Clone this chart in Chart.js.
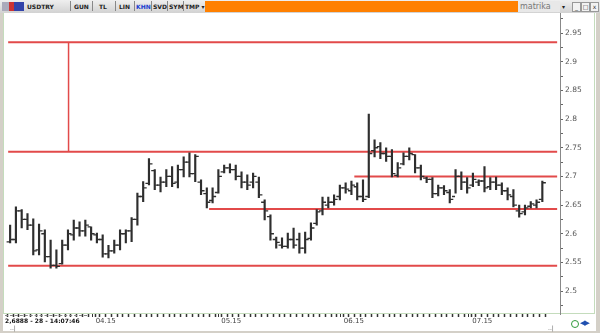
<!DOCTYPE html>
<html>
<head>
<meta charset="utf-8">
<script src="https://cdn.jsdelivr.net/npm/chart.js@4.4.0/dist/chart.umd.min.js"></script>
<style>
  body { margin: 0; background: #d4d0c8; }
  #frame { position: relative; width: 600px; height: 333px; background: #d4d0c8; overflow: hidden;
           font-family: "DejaVu Sans", "Liberation Sans", sans-serif; }
  #toolbar { position: absolute; left: 0; top: 0; width: 600px; height: 13px;
             background: linear-gradient(#efefef, #d2d2d2); }
  .tb { position: absolute; top: 2px; font-size: 6px; font-weight: bold; color: #222; line-height: 9px; }
  .sep { position: absolute; top: 1px; width: 1px; height: 10px; background: #888; }
  #orange { position: absolute; left: 205px; top: 1px; width: 313px; height: 11px; background: #ff8000; }
  #brand { position: absolute; left: 518px; top: 1px; width: 40px; height: 11px; background: #e8e8e8;
           color: #777; font-size: 8px; line-height: 11px; padding-left: 2px; }
  .win { position: absolute; top: 2px; width: 7px; height: 8px; border: 1px solid #999; background: #f2f2f2;
         font-size: 6px; line-height: 8px; text-align: center; color: #333; }
  #panel { position: absolute; left: 3px; top: 13px; width: 593px; height: 318px; background: #fff; }
  #border { position: absolute; left: 3px; top: 13px; width: 590px; height: 300px;
            border-left: 1px solid #c4dcbc; border-right: 1px solid #c4dcbc; border-bottom: 1px solid #c4dcbc; }
  #wrap { position: absolute; left: 0; top: 6px; width: 600px; height: 325px; }
  #info { position: absolute; left: 5px; top: 315px; width: 82px; height: 9px; border-top: 1px dashed #888;
          font-size: 6px; font-weight: bold; line-height: 9px; color: #111; white-space: nowrap; }
  .small { position: absolute; font-size: 6px; color: #666; }
  #refresh { position: absolute; left: 571px; top: 320px; width: 6px; height: 6px; border: 1.5px solid #2f9a3a;
             border-radius: 50%; }
  #arrows { position: absolute; left: 580px; top: 319px; font-size: 7px; color: #2050b0; letter-spacing: -1px; }
</style>
</head>
<body>
<div id="frame">
  <div id="panel"></div>
  <div id="border"></div>
  <div id="wrap"><canvas id="chart" width="600" height="325"></canvas></div>

  <div id="toolbar">
    <div style="position:absolute;left:2px;top:2px;width:22px;height:9px;background:linear-gradient(90deg,#aab 0 30%,#c33 30% 55%,#34a 55% 100%);"></div>
    <div class="tb" style="left:27px;">USDTRY</div>
    <div class="sep" style="left:70px;"></div>
    <div class="tb" style="left:74px;">GUN</div>
    <div class="sep" style="left:92px;"></div>
    <div class="tb" style="left:99px;">TL</div>
    <div class="sep" style="left:115px;"></div>
    <div class="tb" style="left:119px;">LIN</div>
    <div class="sep" style="left:134px;"></div>
    <div class="tb" style="left:136px;color:#2040d0;">KHN</div>
    <div class="sep" style="left:151px;"></div>
    <div class="tb" style="left:153px;">SVD</div>
    <div class="sep" style="left:167px;"></div>
    <div class="tb" style="left:169px;">SYM</div>
    <div class="sep" style="left:183px;"></div>
    <div class="tb" style="left:185px;">TMP ▾</div>
    <div id="orange"></div>
    <div id="brand">matrika</div>
    <div class="tb" style="left:562px;">▾</div>
    <div class="win" style="left:572px;">_</div>
    <div class="win" style="left:581px;">□</div>
    <div class="win" style="left:590px;">x</div>
  </div>

  <div id="info">2,6888 - 28 - 14:07:46</div>
  <div class="small" style="left:10px;top:324px;">..|</div>
  <div class="small" style="left:548px;top:324px;">..|</div>
  <div id="refresh"></div>
  <div id="arrows">◀▶</div>
</div>

<script>
// USDTRY daily bars (high / low / open / close)
const highs = [2.615, 2.647, 2.642, 2.635, 2.626, 2.617, 2.607, 2.589, 2.572, 2.589,
  2.607, 2.624, 2.621, 2.624, 2.612, 2.601, 2.598, 2.580, 2.589, 2.607,
  2.607, 2.628, 2.671, 2.691, 2.731, 2.712, 2.699, 2.712, 2.717, 2.720,
  2.734, 2.741, 2.738, 2.694, 2.680, 2.680, 2.712, 2.720, 2.722, 2.720,
  2.708, 2.703, 2.706, 2.699, 2.659, 2.633, 2.594, 2.593, 2.601, 2.610,
  2.601, 2.603, 2.619, 2.642, 2.664, 2.664, 2.668, 2.685, 2.689, 2.692,
  2.689, 2.694, 2.809, 2.764, 2.759, 2.750, 2.747, 2.724, 2.741, 2.750,
  2.738, 2.720, 2.699, 2.698, 2.685, 2.684, 2.677, 2.712, 2.708, 2.698,
  2.706, 2.694, 2.717, 2.698, 2.699, 2.689, 2.680, 2.677, 2.650, 2.650,
  2.656, 2.659, 2.692];
const lows = [2.584, 2.584, 2.610, 2.607, 2.563, 2.563, 2.551, 2.540, 2.540, 2.547,
  2.572, 2.589, 2.596, 2.596, 2.589, 2.584, 2.559, 2.558, 2.566, 2.572,
  2.584, 2.586, 2.615, 2.656, 2.685, 2.677, 2.673, 2.682, 2.682, 2.680,
  2.699, 2.699, 2.691, 2.668, 2.645, 2.654, 2.671, 2.706, 2.706, 2.694,
  2.680, 2.677, 2.680, 2.663, 2.624, 2.589, 2.575, 2.575, 2.575, 2.575,
  2.566, 2.566, 2.589, 2.615, 2.633, 2.645, 2.650, 2.659, 2.671, 2.668,
  2.659, 2.656, 2.663, 2.734, 2.731, 2.726, 2.699, 2.699, 2.720, 2.729,
  2.706, 2.694, 2.689, 2.663, 2.666, 2.668, 2.654, 2.671, 2.677, 2.671,
  2.682, 2.684, 2.673, 2.677, 2.677, 2.668, 2.659, 2.647, 2.629, 2.633,
  2.645, 2.645, 2.656];
const opens = [2.586, 2.590, 2.640, 2.625, 2.615, 2.572, 2.600, 2.560, 2.545, 2.548,
  2.580, 2.598, 2.610, 2.605, 2.612, 2.598, 2.590, 2.565, 2.570, 2.580,
  2.600, 2.605, 2.625, 2.665, 2.688, 2.710, 2.685, 2.690, 2.700, 2.690,
  2.712, 2.725, 2.705, 2.690, 2.670, 2.658, 2.672, 2.708, 2.715, 2.712,
  2.700, 2.690, 2.690, 2.690, 2.655, 2.630, 2.590, 2.580, 2.578, 2.590,
  2.590, 2.575, 2.592, 2.618, 2.640, 2.650, 2.655, 2.665, 2.680, 2.675,
  2.682, 2.665, 2.665, 2.745, 2.752, 2.740, 2.735, 2.702, 2.722, 2.735,
  2.738, 2.715, 2.697, 2.695, 2.670, 2.680, 2.672, 2.665, 2.700, 2.690,
  2.685, 2.690, 2.692, 2.682, 2.690, 2.685, 2.675, 2.665, 2.640, 2.638,
  2.648, 2.650, 2.660];
const closes = [2.590, 2.640, 2.625, 2.615, 2.570, 2.605, 2.560, 2.545, 2.543, 2.580,
  2.600, 2.610, 2.605, 2.615, 2.600, 2.590, 2.565, 2.570, 2.580, 2.600,
  2.605, 2.625, 2.665, 2.680, 2.722, 2.685, 2.690, 2.700, 2.688, 2.712,
  2.725, 2.705, 2.735, 2.675, 2.655, 2.665, 2.700, 2.715, 2.712, 2.700,
  2.690, 2.685, 2.700, 2.668, 2.640, 2.600, 2.585, 2.578, 2.590, 2.580,
  2.575, 2.590, 2.610, 2.638, 2.655, 2.655, 2.660, 2.680, 2.678, 2.685,
  2.665, 2.660, 2.740, 2.750, 2.740, 2.735, 2.705, 2.715, 2.735, 2.740,
  2.715, 2.700, 2.695, 2.670, 2.680, 2.675, 2.660, 2.700, 2.690, 2.680,
  2.695, 2.692, 2.680, 2.690, 2.685, 2.675, 2.668, 2.650, 2.635, 2.645,
  2.652, 2.655, 2.689];

// drawn support / resistance lines (value, first bar index)
const levels = [2.934, 2.743, 2.700, 2.643, 2.544];
const levelStarts = [-0.34, -0.34, 59.5, 34.4, -0.34];
const vLineX = 10.1;

// axis labels
const monthTicks = [14.4, 36.1, 57.3, 79.5];
const monthLabels = ['04.15', '05.15', '06.15', '07.15'];
const yTicks = [2.5, 2.55, 2.6, 2.65, 2.7, 2.75, 2.8, 2.85, 2.9, 2.95];

const xMin = -0.34, xMax = 94.56;
const barColor = '#2e2e2e';
const red = '#e24a4a';

const idx = highs.map((_, i) => i);

const datasets = [
  {
    type: 'bar',
    data: idx.map(i => ({ x: i, y: [lows[i], highs[i]] })),
    backgroundColor: barColor,
    barThickness: 1.5,
    order: 1
  },
  {
    type: 'scatter',
    data: idx.map(i => ({ x: i - 0.35, y: opens[i] })),
    pointStyle: 'line', pointRadius: 1.5, pointBorderWidth: 1.3, pointBorderColor: barColor,
    order: 0
  },
  {
    type: 'scatter',
    data: idx.map(i => ({ x: i + 0.35, y: closes[i] })),
    pointStyle: 'line', pointRadius: 1.5, pointBorderWidth: 1.3, pointBorderColor: barColor,
    order: 0
  }
];

levels.forEach((lvl, k) => {
  datasets.push({
    type: 'line',
    data: [{ x: levelStarts[k], y: lvl }, { x: xMax, y: lvl }],
    borderColor: red, borderWidth: 2, pointRadius: 0, order: 5
  });
});
// vertical connector between the two top lines
datasets.push({
  type: 'line',
  data: [{ x: vLineX, y: levels[1] }, { x: vLineX, y: levels[0] }],
  borderColor: red, borderWidth: 1.5, pointRadius: 0, order: 5
});

new Chart(document.getElementById('chart'), {
  data: { datasets },
  options: {
    responsive: false,
    animation: false,
    layout: { padding: { left: 5, right: 6, top: 0, bottom: 0 } },
    plugins: { legend: { display: false }, tooltip: { enabled: false } },
    scales: {
      x: {
        type: 'linear',
        position: 'bottom',
        min: xMin,
        max: xMax,
        afterBuildTicks: axis => {
          axis.ticks = idx.concat(monthTicks).sort((a, b) => a - b).map(v => ({ value: v }));
        },
        afterFit: axis => { axis.height = 17; },
        grid: {
          drawOnChartArea: false,
          tickLength: 3,
          tickColor: '#333',
          tickWidth: ctx => monthTicks.includes(ctx.tick && ctx.tick.value) ? 1 : 1.5
        },
        border: { display: false },
        ticks: {
          autoSkip: false,
          maxRotation: 0,
          align: 'start',
          padding: 0,
          color: '#444',
          font: { size: 7, family: 'DejaVu Sans' },
          callback: v => {
            const k = monthTicks.indexOf(v);
            return k >= 0 ? ' ' + monthLabels[k] : '';
          }
        }
      },
      y: {
        type: 'linear',
        position: 'right',
        min: 2.46,
        max: 2.986,
        afterBuildTicks: axis => {
          const t = [];
          yTicks.forEach(v => { t.push({ value: v - 0.025 }); t.push({ value: v }); });
          t.push({ value: 2.975 });
          axis.ticks = t;
        },
        afterFit: axis => { axis.width = 34; },
        grid: { drawOnChartArea: false, tickLength: 3, tickColor: '#666' },
        border: { display: true, color: '#888', width: 1 },
        ticks: {
          autoSkip: false,
          padding: 2,
          color: '#555',
          font: { size: 7.5, family: 'DejaVu Sans' },
          callback: v => {
            const r = Math.round(v * 1000);
            return r % 50 === 0 ? String(r / 1000) : '';
          }
        }
      }
    }
  }
});
</script>
</body>
</html>
